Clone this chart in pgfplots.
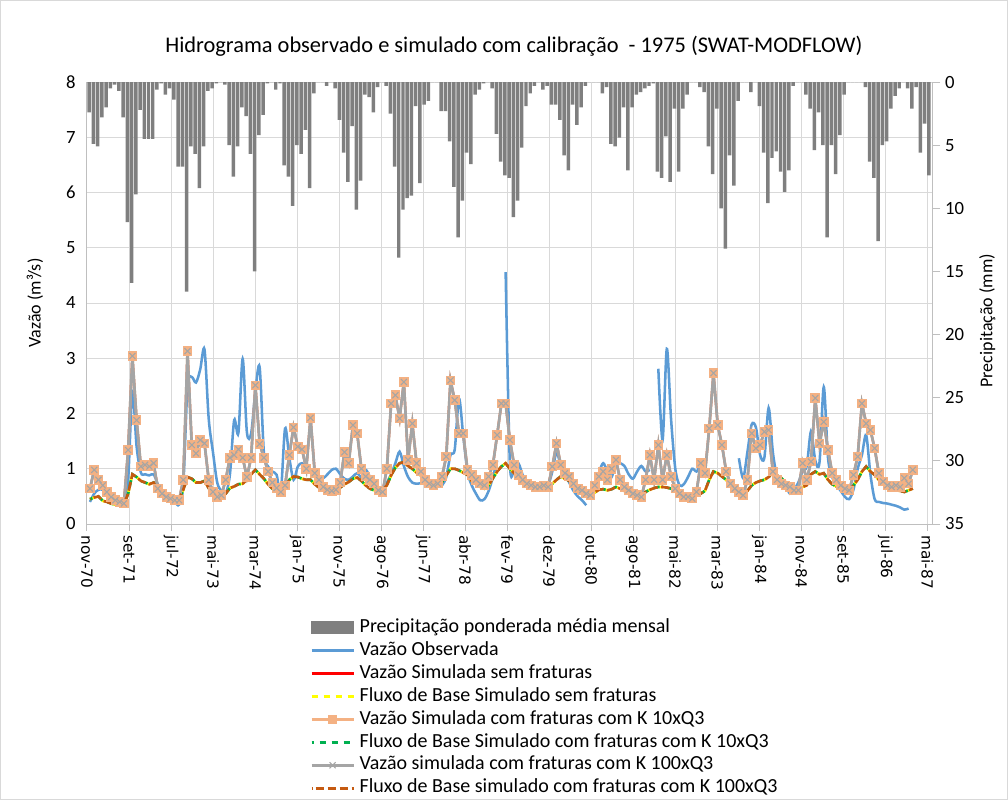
\documentclass[border=0pt]{standalone}
\usepackage{pgfplots}
\pgfplotsset{compat=1.18}
\usepackage{pgfplotstable}
\usepackage{fontspec}
\setmainfont{Carlito}
\newfontfamily\tickfont{DejaVu Sans}

\definecolor{barc}{HTML}{7F7F7F}
\definecolor{obsc}{HTML}{5B9BD5}
\definecolor{redc}{HTML}{FF0000}
\definecolor{yelc}{HTML}{FFFF00}
\definecolor{peachc}{HTML}{F4B183}
\definecolor{greenc}{HTML}{00B050}
\definecolor{grayc}{HTML}{A5A5A5}
\definecolor{orgc}{HTML}{C55A11}
\definecolor{gridc}{HTML}{D9D9D9}
\definecolor{axc}{HTML}{BFBFBF}

% monthly weighted precipitation (m = months since nov-70)
\pgfplotstableread[row sep=\\]{
m p\\
0 2.4\\ 1 4.9\\ 2 5.1\\ 3 2.8\\ 4 2.0\\ 5 0.5\\ 6 0.2\\ 7 0.7\\ 8 2.8\\ 9 11.1\\
10 15.9\\ 11 8.9\\ 12 2.2\\ 13 4.5\\ 14 4.5\\ 15 4.5\\ 16 0.6\\ 17 0.1\\ 18 1.0\\ 19 0.5\\
20 1.4\\ 21 6.7\\ 22 6.7\\ 23 16.6\\ 24 5.1\\ 25 5.7\\ 26 8.4\\ 27 5.1\\ 28 0.7\\ 29 0.5\\
30 0.1\\ 31 0.0\\ 32 0.2\\ 33 5.0\\ 34 7.5\\ 35 5.1\\ 36 2.0\\ 37 2.7\\ 38 5.7\\ 39 15.0\\
40 4.2\\ 41 2.6\\ 42 0.1\\ 43 0.0\\ 44 0.6\\ 45 0.1\\ 46 6.6\\ 47 7.5\\ 48 9.8\\ 49 5.0\\
50 5.7\\ 51 3.8\\ 52 8.4\\ 53 0.9\\ 54 0.0\\ 55 0.0\\ 56 0.3\\ 57 0.0\\ 58 0.5\\ 59 3.0\\
60 5.6\\ 61 7.9\\ 62 3.5\\ 63 10.1\\ 64 7.8\\ 65 1.0\\ 66 1.2\\ 67 2.4\\ 68 0.4\\ 69 0.0\\
70 0.3\\ 71 2.5\\ 72 6.7\\ 73 13.9\\ 74 10.1\\ 75 9.2\\ 76 9.0\\ 77 1.9\\ 78 8.0\\ 79 1.8\\
80 1.5\\ 81 0.0\\ 82 0.0\\ 83 2.3\\ 84 2.3\\ 85 4.7\\ 86 8.3\\ 87 12.3\\ 88 9.4\\ 89 5.6\\
90 6.5\\ 91 1.0\\ 92 0.6\\ 93 0.1\\ 94 0.0\\ 95 0.5\\ 96 4.1\\ 97 6.3\\ 98 7.4\\ 99 7.6\\
100 10.7\\ 101 9.4\\ 102 5.2\\ 103 1.9\\ 104 0.9\\ 105 0.3\\ 106 0.0\\ 107 0.6\\ 108 0.3\\ 109 1.8\\
110 1.8\\ 111 3.0\\ 112 5.8\\ 113 7.0\\ 114 1.8\\ 115 3.4\\ 116 2.0\\ 117 0.3\\ 118 0.0\\ 119 0.0\\
120 0.0\\ 121 0.9\\ 122 0.4\\ 123 4.9\\ 124 5.1\\ 125 4.4\\ 126 2.0\\ 127 7.0\\ 128 2.0\\ 129 1.0\\
130 0.8\\ 131 0.5\\ 132 0.3\\ 133 0.1\\ 134 7.1\\ 135 7.6\\ 136 4.3\\ 137 7.9\\ 138 2.1\\ 139 7.1\\
140 2.1\\ 141 1.0\\ 142 0.0\\ 143 0.0\\ 144 0.4\\ 145 0.8\\ 146 5.1\\ 147 7.3\\ 148 2.1\\ 149 10.0\\
150 13.2\\ 151 5.8\\ 152 8.2\\ 153 1.5\\ 154 0.0\\ 155 0.0\\ 156 0.8\\ 157 0.0\\ 158 1.9\\ 159 5.6\\
160 9.6\\ 161 6.0\\ 162 5.5\\ 163 7.1\\ 164 8.7\\ 165 7.0\\ 166 0.3\\ 167 0.0\\ 168 0.0\\ 169 1.0\\
170 2.1\\ 171 5.4\\ 172 2.4\\ 173 5.0\\ 174 12.3\\ 175 5.0\\ 176 7.3\\ 177 4.2\\ 178 1.0\\ 179 0.0\\
180 0.0\\ 181 0.0\\ 182 0.0\\ 183 0.4\\ 184 6.3\\ 185 7.6\\ 186 12.6\\ 187 5.0\\ 188 4.7\\ 189 2.1\\
190 1.1\\ 191 0.5\\ 192 0.0\\ 193 0.5\\ 194 2.1\\ 195 0.4\\ 196 5.6\\ 197 3.3\\ 198 7.4\\
}\precip

% flows: observed, simulated, base flow
\pgfplotstableread[row sep=\\]{
k obs sim base\\
0 0.40 0.64 0.45\\ 1 0.55 0.98 0.48\\ 2 0.62 0.80 0.50\\ 3 0.62 0.70 0.42\\ 4 0.55 0.58 0.40\\
5 0.45 0.49 0.37\\ 6 0.40 0.43 0.35\\ 7 0.37 0.40 0.33\\ 8 0.38 0.37 0.35\\ 9 0.80 1.34 0.55\\
10 2.40 3.04 0.90\\ 11 1.40 1.88 0.85\\ 12 0.93 1.04 0.78\\ 13 0.90 1.07 0.75\\ 14 0.88 1.04 0.72\\
15 0.90 1.10 0.75\\ 16 0.72 0.64 0.60\\ 17 0.55 0.55 0.52\\ 18 0.48 0.49 0.48\\ 19 0.45 0.46 0.45\\
20 0.40 0.43 0.43\\ 21 0.35 0.43 0.45\\ 22 0.70 0.80 0.62\\ 23 2.50 3.13 0.85\\ 24 2.66 1.43 0.82\\
25 2.56 1.28 0.75\\ 26 2.80 1.52 0.75\\ 27 3.16 1.46 0.78\\ 28 1.90 0.80 0.65\\ 29 1.30 0.58 0.55\\
30 0.75 0.49 0.50\\ 31 0.60 0.52 0.48\\ 32 0.55 0.80 0.55\\ 33 0.90 1.20 0.65\\ 34 1.88 1.25 0.68\\
35 1.65 1.35 0.72\\ 36 2.99 1.20 0.73\\ 37 1.66 0.85 0.80\\ 38 1.64 1.20 0.90\\ 39 2.40 2.51 0.98\\
40 2.84 1.45 0.90\\ 41 1.30 1.20 0.82\\ 42 1.04 0.95 0.72\\ 43 0.95 0.75 0.64\\ 44 0.89 0.65 0.60\\
45 0.58 0.58 0.58\\ 46 1.73 0.70 0.65\\ 47 1.20 1.25 0.80\\ 48 0.80 1.75 0.86\\ 49 1.04 1.40 0.85\\
50 1.10 1.35 0.82\\ 51 1.00 1.00 0.80\\ 52 0.95 1.92 0.80\\ 53 0.92 0.92 0.72\\ 54 0.85 0.80 0.66\\
55 0.83 0.67 0.62\\ 56 0.90 0.62 0.60\\ 57 0.98 0.60 0.60\\ 58 1.00 0.62 0.62\\ 59 0.90 0.75 0.66\\
60 0.82 1.30 0.72\\ 61 0.80 1.10 0.76\\ 62 0.86 1.79 0.82\\ 63 0.92 1.64 0.84\\ 64 0.85 1.00 0.78\\
65 0.98 0.86 0.70\\ 66 0.85 0.80 0.64\\ 67 0.67 0.73 0.61\\ 68 0.60 0.61 0.58\\ 69 0.58 0.58 0.62\\
70 0.75 1.00 0.70\\ 71 0.90 2.18 0.88\\ 72 1.10 2.33 1.02\\ 73 1.31 1.91 1.10\\ 74 1.05 2.57 1.12\\
75 0.85 1.16 1.05\\ 76 0.75 1.82 1.00\\ 77 0.73 1.10 0.93\\ 78 0.74 0.95 0.88\\ 79 0.76 0.80 0.80\\
80 0.76 0.73 0.75\\ 81 0.72 0.70 0.70\\ 82 0.68 0.73 0.72\\ 83 0.70 0.86 0.76\\ 84 0.85 1.22 0.88\\
85 1.25 2.60 1.00\\ 86 1.35 2.24 1.00\\ 87 2.27 1.64 0.97\\ 88 1.60 1.64 0.93\\ 89 0.95 0.98 0.89\\
90 0.70 0.89 0.78\\ 91 0.55 0.80 0.72\\ 92 0.43 0.73 0.67\\ 93 0.45 0.70 0.64\\ 94 0.60 0.86 0.70\\
95 0.85 1.07 0.83\\ 96 1.15 1.61 0.95\\ 97 nan 2.18 1.04\\ 98 4.56 2.18 1.10\\ 99 1.10 1.52 1.00\\
100 1.00 1.07 0.92\\ 101 1.10 0.89 0.86\\ 102 0.89 0.80 0.80\\ 103 0.78 0.73 0.75\\ 104 0.75 0.70 0.71\\
105 0.73 0.67 0.69\\ 106 0.72 0.67 0.67\\ 107 0.70 0.70 0.67\\ 108 0.70 0.67 0.69\\ 109 0.95 1.04 0.73\\
110 1.30 1.46 0.80\\ 111 1.05 1.07 0.86\\ 112 0.90 0.92 0.82\\ 113 0.75 0.86 0.78\\ 114 0.60 0.73 0.74\\
115 0.50 0.64 0.69\\ 116 0.43 0.61 0.65\\ 117 0.34 0.55 0.61\\ 118 nan 0.52 0.58\\ 119 0.55 0.70 0.57\\
120 0.92 0.86 0.62\\ 121 1.10 0.95 0.63\\ 122 0.95 0.80 0.61\\ 123 0.85 1.00 0.63\\ 124 1.13 1.16 0.67\\
125 1.10 0.80 0.64\\ 126 1.05 0.67 0.60\\ 127 0.90 0.61 0.57\\ 128 0.82 0.55 0.55\\ 129 0.95 0.52 0.52\\
130 1.05 0.49 0.49\\ 131 0.95 0.80 0.58\\ 132 0.98 1.25 0.62\\ 133 nan 0.80 0.65\\ 134 2.81 1.43 0.67\\
135 1.52 0.80 0.67\\ 136 3.17 1.25 0.66\\ 137 1.90 0.86 0.64\\ 138 1.00 0.64 0.60\\ 139 0.70 0.55 0.56\\
140 0.72 0.49 0.53\\ 141 0.85 0.49 0.50\\ 142 1.00 0.46 0.50\\ 143 0.95 0.58 0.53\\ 144 1.05 1.10 0.55\\
145 0.95 0.92 0.60\\ 146 nan 1.73 0.80\\ 147 nan 2.73 0.95\\ 148 nan 1.79 0.92\\ 149 nan 1.43 0.86\\
150 nan 0.95 0.80\\ 151 nan 0.73 0.72\\ 152 nan 0.64 0.66\\ 153 1.19 0.58 0.61\\ 154 0.83 0.52 0.56\\
155 1.30 0.80 0.60\\ 156 1.80 1.64 0.70\\ 157 1.75 1.37 0.75\\ 158 1.25 1.43 0.78\\ 159 1.20 1.67 0.80\\
160 2.10 1.70 0.85\\ 161 1.30 0.95 0.93\\ 162 0.85 0.80 0.88\\ 163 0.75 0.73 0.83\\ 164 0.70 0.70 0.76\\
165 0.55 0.67 0.70\\ 166 0.62 0.61 0.61\\ 167 0.75 0.61 0.64\\ 168 0.95 1.10 0.67\\ 169 1.05 0.80 0.70\\
170 1.68 1.13 0.90\\ 171 1.15 2.28 0.95\\ 172 1.12 1.46 0.90\\ 173 2.48 1.85 0.92\\ 174 1.20 1.34 0.80\\
175 0.85 0.92 0.72\\ 176 0.70 0.80 0.68\\ 177 0.60 0.70 0.64\\ 178 0.49 0.64 0.62\\ 179 0.45 0.61 0.61\\
180 0.62 0.89 0.70\\ 181 1.00 1.22 0.80\\ 182 1.25 2.18 0.95\\ 183 1.61 1.82 1.04\\ 184 0.90 1.70 0.95\\
185 0.45 1.37 0.89\\ 186 0.40 0.92 0.80\\ 187 0.38 0.77 0.72\\ 188 0.37 0.70 0.67\\ 189 0.35 0.67 0.64\\
190 0.33 0.70 0.61\\ 191 0.30 0.67 0.60\\ 192 0.26 0.83 0.58\\ 193 0.28 0.73 0.61\\ 194 nan 0.98 0.64\\
}\flows

\begin{document}
\begin{tikzpicture}
\useasboundingbox (-65.25pt,-207pt) rectangle (690.75pt,393pt);
\draw[draw=gridc, line width=0.75pt] (-64.9pt,-206.6pt) rectangle (690.4pt,392.6pt);

% ---------- flow axis (left) ----------
\begin{axis}[
  at={(0pt,0pt)}, anchor=south west, scale only axis,
  width=634pt, height=331.5pt,
  xmin=0, xmax=199.3, ymin=0, ymax=8,
  axis x line*=bottom, axis y line*=left,
  axis line style={draw=axc, line width=0.75pt},
  xmajorgrids, ymajorgrids,
  grid style={draw=gridc, line width=0.75pt},
  xtick={0,9.906,19.81,29.72,39.62,49.53,59.44,69.34,79.25,89.15,99.06,108.97,118.87,128.78,138.68,148.59,158.50,168.40,178.31,188.21,198.12},
  xticklabels={nov-70,set-71,jul-72,mai-73,mar-74,jan-75,nov-75,ago-76,jun-77,abr-78,fev-79,dez-79,out-80,ago-81,mai-82,mar-83,jan-84,nov-84,set-85,jul-86,mai-87},
  xticklabel style={rotate=-90, anchor=west, font=\tickfont\fontsize{11.5}{13}\selectfont},
  xtick style={draw=axc, line width=0.75pt},
  tick align=outside, major tick length=5pt,
  ytick={0,1,...,8},
  ytick style={draw=none},
  yticklabel style={font=\fontsize{14}{16}\selectfont},
  /pgf/number format/assume math mode=true,
  ylabel={Vazão (m³/s)},
  ylabel style={at={(axis description cs:-0.0615,0.5)}, anchor=center, font=\fontsize{13.5}{15}\selectfont},
  title={Hidrograma observado e simulado com calibração \ - 1975 (SWAT-MODFLOW)},
  title style={at={(axis description cs:0.505,1)}, anchor=center, yshift=21pt, font=\fontsize{16.8}{19}\selectfont},
  unbounded coords=jump,
  legend style={at={(axis description cs:0.259,-0.205)}, anchor=north west,
    draw=none, fill=none, font=\fontsize{15}{17}\selectfont,
    row sep=2pt, column sep=3pt,
    nodes={inner sep=0.6pt, text height=10.5pt, text depth=3.5pt}},
  legend cell align=left,
  legend image code/.code={\draw[mark repeat=2,mark phase=2,#1] plot coordinates {(0pt,0pt) (15.75pt,0pt) (31.5pt,0pt)};},
]
\addlegendimage{legend image code/.code={\fill[barc] (0pt,-4.5pt) rectangle (31.5pt,4.5pt);}}
\addlegendentry{Precipitação ponderada média mensal}

\addplot[obsc, line width=1.9pt, smooth, tension=0.5] table[x expr=\thisrow{k}+0.7, y=obs]{\flows};
\addlegendentry{Vazão Observada}

\addplot[redc, line width=1.6pt] table[x expr=\thisrow{k}+0.7, y=sim]{\flows};
\addlegendentry{Vazão Simulada sem fraturas}

\addplot[yelc, line width=2pt, dash pattern=on 5pt off 4pt] table[x expr=\thisrow{k}+0.7, y=base]{\flows};
\addlegendentry{Fluxo de Base Simulado sem fraturas}

\addplot[peachc, line width=2pt, mark=square*, mark size=2.6pt, mark options={solid, fill=peachc, draw=peachc}] table[x expr=\thisrow{k}+0.7, y=sim]{\flows};
\addlegendentry{Vazão Simulada com fraturas com K 10xQ3}

\addplot[greenc, line width=2pt, dash pattern=on 5pt off 4pt, dash phase=3pt] table[x expr=\thisrow{k}+0.7, y=base]{\flows};
\addlegendentry{Fluxo de Base Simulado com fraturas com K 10xQ3}

\addplot[grayc, line width=2pt, mark=x, mark size=3.2pt, mark options={solid, draw=grayc, line width=0.8pt}] table[x expr=\thisrow{k}+0.7, y=sim]{\flows};
\addlegendentry{Vazão simulada com fraturas com K 100xQ3}

\addplot[orgc, line width=2pt, dash pattern=on 6.5pt off 2.5pt, dash phase=6pt] table[x expr=\thisrow{k}+0.7, y=base]{\flows};
\addlegendentry{Fluxo de Base simulado com fraturas com K 100xQ3}
\end{axis}

% ---------- precipitation axis (right, reversed) ----------
\begin{axis}[
  at={(0pt,0pt)}, anchor=south west, scale only axis,
  width=634pt, height=331.5pt,
  xmin=0, xmax=199.3, ymin=0, ymax=35, y dir=reverse,
  axis x line=none, axis y line*=right,
  axis line style={draw=axc, line width=0.75pt},
  ytick={0,5,...,35},
  ytick style={draw=axc, line width=0.75pt},
  tick align=outside, major tick length=6pt,
  yticklabel style={font=\fontsize{14}{16}\selectfont},
  /pgf/number format/assume math mode=true,
  ylabel={Precipitação (mm)},
  ylabel style={at={(axis description cs:1.065,0.46)}, anchor=center, font=\fontsize{13.5}{15}\selectfont},
]
\addplot[ybar, bar width=0.82, bar shift=0pt, fill=barc, draw=none] table[x expr=\thisrow{m}+0.5, y=p]{\precip};
\end{axis}
\end{tikzpicture}
\end{document}
